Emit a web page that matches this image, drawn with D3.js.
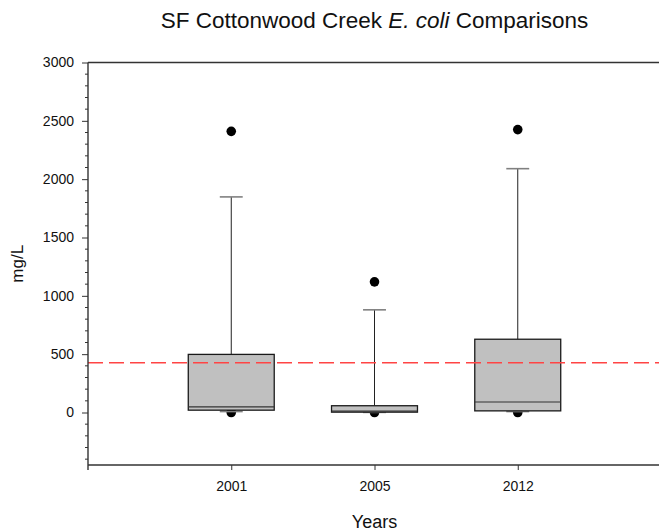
<!DOCTYPE html>
<html>
<head>
<meta charset="utf-8">
<script src="https://cdn.jsdelivr.net/npm/d3@7"></script>
<style>
  html, body { margin: 0; padding: 0; background: #fff; }
  svg { display: block; font-family: Arial, "Liberation Sans", sans-serif; }
</style>
</head>
<body>
<svg id="chart" width="659" height="531"></svg>
<script>
// E. coli box plot summaries per sampling year
const years = ["2001", "2005", "2012"];
const lowerWhisker = [8, 1, 8];
const q1 = [20, 3, 14];
const median = [48, 12, 90];
const q3 = [498, 58, 628];
const upperWhisker = [1848, 880, 2090];
const outliers = [[2410, 0], [1120, 0], [2425, 0]];
const standardLine = 426;
const yMajorTicks = [0, 500, 1000, 1500, 2000, 2500, 3000];
const yMinorTicks = d3.range(-400, 3001, 100);

const svg = d3.select("#chart");
const plotLeft = 88, plotRight = 661, plotTop = 62.5, plotBottom = 465;

const x = d3.scaleLinear().domain([0, 4]).range([plotLeft, plotRight]);
const y = d3.scaleLinear().domain([-450, 3000]).range([plotBottom, plotTop]);

const boxes = years.map((yr, i) => ({
  year: yr, pos: i + 1,
  lo: lowerWhisker[i], q1: q1[i], med: median[i], q3: q3[i], hi: upperWhisker[i],
  out: outliers[i]
}));

const boxW = 0.6, capW = 0.16;
const g = svg.append("g");

// outlier dots (drawn first so boxes sit over them)
boxes.forEach(b => {
  g.selectAll(null).data(b.out).enter().append("circle")
    .attr("cx", x(b.pos)).attr("cy", d => y(d)).attr("r", 4.8)
    .attr("fill", "#000");
});

// whiskers and caps
boxes.forEach(b => {
  g.append("line")
    .attr("x1", x(b.pos)).attr("x2", x(b.pos))
    .attr("y1", y(b.q3)).attr("y2", y(b.hi))
    .attr("stroke", "#222").attr("stroke-width", 1);
  g.append("line")
    .attr("x1", x(b.pos)).attr("x2", x(b.pos))
    .attr("y1", y(b.q1)).attr("y2", y(b.lo))
    .attr("stroke", "#222").attr("stroke-width", 1);
  [b.hi, b.lo].forEach(v => {
    g.append("line")
      .attr("x1", x(b.pos - capW / 2)).attr("x2", x(b.pos + capW / 2))
      .attr("y1", y(v)).attr("y2", y(v))
      .attr("stroke", "#808080").attr("stroke-width", 1.6);
  });
});

// boxes and medians
g.selectAll("rect.box").data(boxes).enter().append("rect")
  .attr("class", "box")
  .attr("x", d => x(d.pos - boxW / 2))
  .attr("width", x(boxW) - x(0))
  .attr("y", d => y(d.q3))
  .attr("height", d => y(d.q1) - y(d.q3))
  .attr("fill", "#c0c0c0").attr("stroke", "#1a1a1a").attr("stroke-width", 1.3);

g.selectAll("line.median").data(boxes).enter().append("line")
  .attr("class", "median")
  .attr("x1", d => x(d.pos - boxW / 2)).attr("x2", d => x(d.pos + boxW / 2))
  .attr("y1", d => y(d.med)).attr("y2", d => y(d.med))
  .attr("stroke", "#333").attr("stroke-width", 1.1);

// reference standard
svg.append("line")
  .attr("x1", plotLeft).attr("x2", 659)
  .attr("y1", y(standardLine)).attr("y2", y(standardLine))
  .attr("stroke", "#ff4444").attr("stroke-width", 1.4)
  .attr("stroke-dasharray", "15,6");

// frame: top border
svg.append("line")
  .attr("x1", plotLeft).attr("x2", 659).attr("y1", plotTop).attr("y2", plotTop)
  .attr("stroke", "#333").attr("stroke-width", 1.4);

// y axis
const yAxis = svg.append("g").attr("transform", `translate(${plotLeft},0)`)
  .call(d3.axisLeft(y).tickValues(yMajorTicks).tickFormat(d3.format("d"))
    .tickSize(6).tickSizeOuter(0).tickPadding(8));
yAxis.select(".domain").remove();
yAxis.selectAll(".tick line").attr("stroke", "#333");
yAxis.selectAll(".tick text").attr("font-size", 14).attr("fill", "#111")
  .attr("font-family", "Arial, 'Liberation Sans', sans-serif");
yAxis.selectAll("line.minor").data(yMinorTicks.filter(v => !yMajorTicks.includes(v)))
  .enter().append("line").attr("class", "minor")
  .attr("x1", -3).attr("x2", 0).attr("y1", d => y(d)).attr("y2", d => y(d))
  .attr("stroke", "#333");
svg.append("line")
  .attr("x1", plotLeft).attr("x2", plotLeft).attr("y1", plotTop).attr("y2", plotBottom + 5)
  .attr("stroke", "#333").attr("stroke-width", 1.4);

// x axis
const xAxis = svg.append("g").attr("transform", `translate(0,${plotBottom})`)
  .call(d3.axisBottom(x).tickValues(boxes.map(b => b.pos))
    .tickFormat((d, i) => years[i]).tickSize(5).tickSizeOuter(0).tickPadding(11));
xAxis.select(".domain").remove();
xAxis.selectAll(".tick line").attr("stroke", "#333");
xAxis.selectAll(".tick text").attr("font-size", 14).attr("fill", "#111")
  .attr("font-family", "Arial, 'Liberation Sans', sans-serif");
svg.append("line")
  .attr("x1", plotLeft).attr("x2", 659).attr("y1", plotBottom).attr("y2", plotBottom)
  .attr("stroke", "#333").attr("stroke-width", 1.4);

// titles
const title = svg.append("text")
  .attr("x", (plotLeft + plotRight) / 2).attr("y", 28)
  .attr("text-anchor", "middle").attr("font-size", 22.5).attr("fill", "#111");
title.append("tspan").text("SF Cottonwood Creek ");
title.append("tspan").attr("font-style", "italic").text("E. coli");
title.append("tspan").text(" Comparisons");

svg.append("text")
  .attr("x", (plotLeft + plotRight) / 2).attr("y", 528)
  .attr("text-anchor", "middle").attr("font-size", 18).attr("fill", "#111")
  .text("Years");

svg.append("text")
  .attr("transform", `translate(23,${(plotTop + plotBottom) / 2}) rotate(-90)`)
  .attr("text-anchor", "middle").attr("font-size", 17).attr("fill", "#111")
  .text("mg/L");
</script>
</body>
</html>
